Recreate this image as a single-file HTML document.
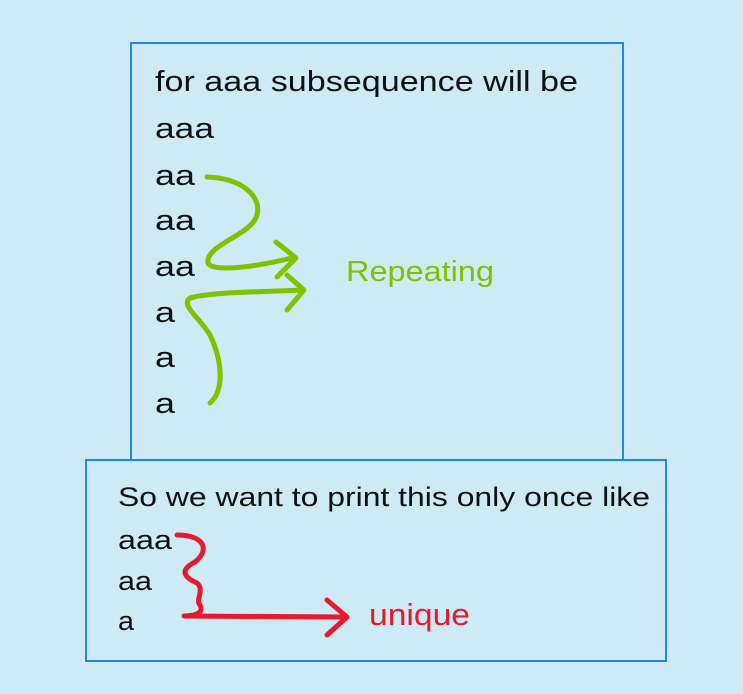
<!DOCTYPE html>
<html><head><meta charset="utf-8"><style>
html,body{margin:0;padding:0;background:#cdeaf5;}
svg{display:block}
text{font-family:"Liberation Sans",sans-serif;fill:#111;}
</style></head><body>
<svg width="743" height="694" viewBox="0 0 743 694">
<rect x="0" y="0" width="743" height="694" fill="#cdeaf5"/>
<rect x="131" y="43" width="492" height="417" fill="none" stroke="#1e88e5" stroke-width="2"/>
<rect x="86" y="460" width="580" height="201" fill="none" stroke="#1e88e5" stroke-width="2"/>
<g font-size="29" lengthAdjust="spacingAndGlyphs">
<text x="155" y="91" textLength="423" lengthAdjust="spacingAndGlyphs">for aaa subsequence will be</text>
<text x="155" y="138" textLength="59" lengthAdjust="spacingAndGlyphs">aaa</text>
<text x="155" y="185" textLength="40" lengthAdjust="spacingAndGlyphs">aa</text>
<text x="155" y="230" textLength="40" lengthAdjust="spacingAndGlyphs">aa</text>
<text x="155" y="276" textLength="40" lengthAdjust="spacingAndGlyphs">aa</text>
<text x="155" y="322" textLength="20" lengthAdjust="spacingAndGlyphs">a</text>
<text x="155" y="367" textLength="20" lengthAdjust="spacingAndGlyphs">a</text>
<text x="155" y="413" textLength="20" lengthAdjust="spacingAndGlyphs">a</text>
</g>
<g font-size="27">
<text x="118" y="506" textLength="532" lengthAdjust="spacingAndGlyphs">So we want to print this only once like</text>
<text x="118" y="549" textLength="54" lengthAdjust="spacingAndGlyphs">aaa</text>
<text x="118" y="590" textLength="34" lengthAdjust="spacingAndGlyphs">aa</text>
<text x="118" y="630" textLength="16" lengthAdjust="spacingAndGlyphs">a</text>
</g>
<g fill="none" stroke="#7dc300" stroke-width="5" stroke-linecap="round" stroke-linejoin="round">
<path d="M207,177 C240,178 262,195 257,215 C252,235 205,245 208,263 C212,272 250,268 292,258"/>
<path d="M276,242 L296,258 L277,277"/>
<path d="M210,403 C225,390 222,360 210,335 C200,318 180,305 190,298 C210,292 260,292 303,290"/>
<path d="M287,275 L304,290 L287,310"/>
</g>
<g fill="none" stroke="#e8192c" stroke-width="5" stroke-linecap="round" stroke-linejoin="round">
<path d="M177,535 C205,535 210,550 195,562 C175,572 190,580 197,583 C205,590 195,600 200,605 C205,615 190,616 184,616 L345,617"/>
<path d="M327,600 L347,617 L327,635"/>
</g>
<text x="346" y="281" font-size="29" textLength="148" lengthAdjust="spacingAndGlyphs" style="fill:#7dc300">Repeating</text>
<text x="369" y="625" font-size="31" textLength="101" lengthAdjust="spacingAndGlyphs" style="fill:#e8192c">unique</text>
</svg>
</body></html>
